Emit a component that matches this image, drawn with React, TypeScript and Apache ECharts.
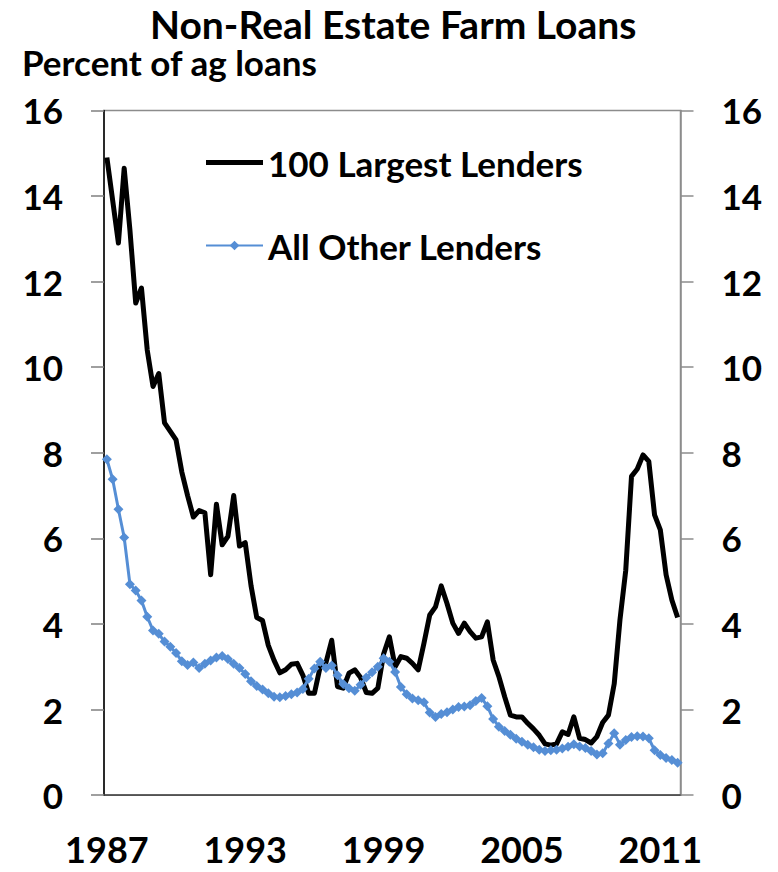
import React, { useEffect, useRef } from "react";
import * as echarts from "echarts";

const START_YEAR = 1987;
const QUARTER_COUNT = 100;
const categories: string[] = Array.from(
  { length: QUARTER_COUNT },
  (_, i) => `${START_YEAR + Math.floor(i / 4)}Q${(i % 4) + 1}`
);
const tickLabels = ["1987", "1993", "1999", "2005", "2011"];

const largestLenders = [
  14.9, 13.9, 12.9, 14.65, 13.2, 11.5, 11.85, 10.4, 9.55, 9.85,
  8.7, 8.5, 8.3, 7.55, 7.0, 6.5, 6.65, 6.6, 5.15, 6.8,
  5.85, 6.05, 7.0, 5.82, 5.9, 4.9, 4.15, 4.08, 3.5, 3.15,
  2.86, 2.93, 3.06, 3.08, 2.8, 2.38, 2.38, 3.0, 3.1, 3.62,
  2.54, 2.5, 2.85, 2.93, 2.75, 2.4, 2.38, 2.5, 3.3, 3.7,
  3.0, 3.24, 3.2, 3.08, 2.93, 3.55, 4.21, 4.4, 4.89, 4.48,
  4.02, 3.78, 4.02, 3.82, 3.67, 3.7, 4.05, 3.16, 2.77, 2.3,
  1.87, 1.83, 1.83, 1.68, 1.55, 1.4, 1.2, 1.17, 1.2, 1.48,
  1.42, 1.83, 1.33, 1.3, 1.22, 1.37, 1.7, 1.87, 2.6, 4.1,
  5.25, 7.45, 7.62, 7.95, 7.8, 6.55, 6.2, 5.15, 4.56, 4.15,
];

const otherLenders = [
  7.85, 7.38, 6.68, 6.02, 4.93, 4.78, 4.55, 4.17, 3.85, 3.77,
  3.59, 3.47, 3.32, 3.13, 3.04, 3.1, 2.97, 3.07, 3.15, 3.22,
  3.25, 3.18, 3.07, 2.97, 2.83, 2.66, 2.55, 2.47, 2.38, 2.3,
  2.29, 2.32, 2.36, 2.4, 2.48, 2.72, 2.96, 3.12, 2.97, 3.03,
  2.8, 2.6, 2.5, 2.44, 2.58, 2.75, 2.87, 3.0, 3.2, 3.12,
  2.88, 2.53, 2.36, 2.26, 2.22, 2.17, 1.93, 1.83, 1.9, 1.94,
  2.0, 2.06, 2.07, 2.1, 2.2, 2.27, 2.08, 1.78, 1.6, 1.5,
  1.41, 1.32, 1.25, 1.18, 1.12, 1.06, 1.03, 1.05, 1.06, 1.09,
  1.13, 1.19, 1.14, 1.1, 1.03, 0.95, 0.98, 1.21, 1.45, 1.18,
  1.29, 1.36, 1.38, 1.37, 1.33, 1.05, 0.94, 0.87, 0.82, 0.76,
];

const SERIES_NAMES = ["100 Largest Lenders", "All Other Lenders"];

export default function App() {
  const ref = useRef<HTMLDivElement>(null);

  useEffect(() => {
    if (!ref.current) return;
    const chart = echarts.init(ref.current, null, { renderer: "svg" });
    const font = "Lato, 'Noto Sans', sans-serif";
    const gray = "#8c8c8c";
    const tickGray = "#7f7f7f";
    const blue = "#558ED5";

    const yAxisBase = {
      type: "value" as const,
      min: 0,
      max: 16,
      interval: 2,
      splitLine: { show: false },
    };

    chart.setOption({
      animation: false,
      backgroundColor: "#ffffff",
      title: [
        {
          text: "Non-Real Estate Farm Loans",
          left: 150,
          top: 4,
          padding: 0,
          textStyle: { fontFamily: font, fontWeight: "bold", fontSize: 39, color: "#000" },
        },
        {
          text: "Percent of ag loans",
          left: 22,
          top: 44,
          padding: 0,
          textStyle: { fontFamily: font, fontWeight: "bold", fontSize: 35, color: "#000" },
        },
      ],
      legend: {
        orient: "vertical",
        left: 205,
        top: 145,
        padding: 0,
        itemWidth: 57,
        itemHeight: 12,
        itemGap: 48,
        data: [
          { name: SERIES_NAMES[0], icon: "path://M0,0H57V5H0Z" },
          { name: SERIES_NAMES[1] },
        ],
        textStyle: { fontFamily: font, fontWeight: "bold", fontSize: 35, color: "#000" },
      },
      grid: {
        left: 104,
        right: 97.5,
        top: 110.4,
        bottom: 76.8,
        show: true,
        borderColor: gray,
        borderWidth: 1.5,
        backgroundColor: "transparent",
      },
      xAxis: {
        type: "category",
        data: categories,
        boundaryGap: true,
        axisLine: { lineStyle: { color: "#404040", width: 1.5 } },
        axisTick: { interval: 11, length: 13, lineStyle: { color: tickGray, width: 1.5 } },
        axisLabel: {
          interval: 23,
          margin: 36,
          formatter: (_v: string, idx: number) => tickLabels[Math.round(idx / 24)] ?? "",
          fontFamily: font,
          fontWeight: "bold",
          fontSize: 36,
          color: "#000",
        },
      },
      yAxis: [
        {
          ...yAxisBase,
          position: "left",
          axisLine: { show: true, lineStyle: { color: "#000", width: 1.5 } },
          axisTick: { show: true, length: 13, lineStyle: { color: tickGray, width: 1.5 } },
          axisLabel: { margin: 41, fontFamily: font, fontWeight: "bold", fontSize: 35, color: "#000" },
        },
        {
          ...yAxisBase,
          position: "right",
          axisLine: { show: true, lineStyle: { color: gray, width: 1.5 } },
          axisTick: { show: true, length: 13, lineStyle: { color: gray, width: 1.5 } },
          axisLabel: { margin: 41, fontFamily: font, fontWeight: "bold", fontSize: 35, color: "#000" },
        },
      ],
      series: [
        {
          name: SERIES_NAMES[0],
          type: "line",
          data: largestLenders,
          yAxisIndex: 0,
          symbol: "none",
          lineStyle: { color: "#000", width: 5, join: "round" },
          itemStyle: { color: "#000" },
        },
        {
          name: SERIES_NAMES[1],
          type: "line",
          data: otherLenders,
          yAxisIndex: 0,
          symbol: "diamond",
          symbolSize: 10,
          showAllSymbol: true,
          lineStyle: { color: blue, width: 3 },
          itemStyle: { color: blue },
        },
      ],
    });

    return () => chart.dispose();
  }, []);

  return (
    <div
      ref={ref}
      style={{ position: "fixed", left: 0, top: 0, width: 778, height: 872, background: "#fff" }}
    />
  );
}
